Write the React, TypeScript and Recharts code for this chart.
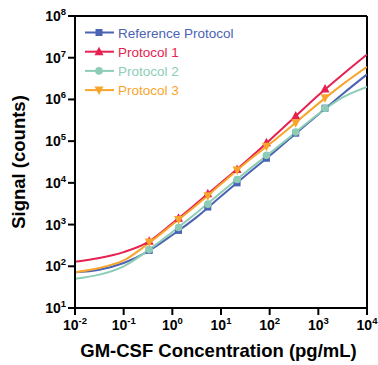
import { ComposedChart, Line, Scatter, XAxis, YAxis, ReferenceLine } from 'recharts';

const FONT = '"Liberation Sans", Arial, sans-serif';

// measured points (pg/mL -> counts)
const concentrations = [0.335, 1.34, 5.36, 21.4, 85.8, 343, 1372];
const referenceSignal = [240, 725, 2630, 10000, 38900, 155000, 617000];
const protocol1Signal = [398, 1410, 5500, 20900, 91200, 398000, 1780000];
const protocol2Signal = [251, 851, 3090, 12000, 45700, 166000, 617000];
const protocol3Signal = [380, 1320, 4900, 20400, 75900, 275000, 1100000];

// fitted curves, every half decade
const fitConcentrations = [0.01, 0.0316, 0.1, 0.316, 1, 3.16, 10, 31.6, 100, 316, 1000, 3160, 10000];
const referenceFit = [72, 83, 120, 229, 562, 1510, 4790, 14800, 44700, 141000, 437000, 1350000, 3980000];
const protocol1Fit = [129, 158, 219, 380, 1070, 3240, 10000, 31600, 105000, 363000, 1260000, 3980000, 12000000];
const protocol2Fit = [50, 63, 100, 240, 661, 1910, 5890, 17800, 51300, 151000, 447000, 1120000, 2000000];
const protocol3Fit = [72, 91, 138, 347, 1000, 2950, 9330, 29500, 85100, 257000, 794000, 2290000, 6030000];

const xTicks = [0.01, 0.1, 1, 10, 100, 1000, 10000];
const yTicks = [10, 100, 1e3, 1e4, 1e5, 1e6, 1e7, 1e8];

type MarkerKind = 'square' | 'triangle' | 'circle' | 'triangleDown';

const toPoints = (xs: number[], ys: number[]) => xs.map((x, i) => ({ x, y: ys[i] }));

const series = [
  { name: 'Reference Protocol', color: '#4b63b3', marker: 'square' as MarkerKind, points: referenceSignal, fit: referenceFit },
  { name: 'Protocol 1', color: '#e6214f', marker: 'triangle' as MarkerKind, points: protocol1Signal, fit: protocol1Fit },
  { name: 'Protocol 2', color: '#8dcdb5', marker: 'circle' as MarkerKind, points: protocol2Signal, fit: protocol2Fit },
  { name: 'Protocol 3', color: '#f8a52c', marker: 'triangleDown' as MarkerKind, points: protocol3Signal, fit: protocol3Fit },
];

function drawMarker(kind: MarkerKind, cx: number, cy: number, color: string) {
  if (kind === 'square') return <rect x={cx - 3.5} y={cy - 3.5} width={7} height={7} fill={color} />;
  if (kind === 'circle') return <circle cx={cx} cy={cy} r={3.8} fill={color} />;
  if (kind === 'triangle')
    return <polygon points={`${cx},${cy - 5} ${cx + 4.5},${cy + 3.5} ${cx - 4.5},${cy + 3.5}`} fill={color} />;
  return <polygon points={`${cx},${cy + 5} ${cx + 4.5},${cy - 3.5} ${cx - 4.5},${cy - 3.5}`} fill={color} />;
}

function PowerTick({ x, y, payload, axis }: any) {
  const exp = Math.round(Math.log10(payload.value));
  if (axis === 'y') {
    return (
      <text x={x} y={y + 5} textAnchor="end" fontFamily={FONT} fontWeight="bold" fontSize={14} fill="#000">
        10<tspan dy={-6} fontSize={9.5}>{exp}</tspan>
      </text>
    );
  }
  return (
    <text x={x} y={y + 13} textAnchor="middle" fontFamily={FONT} fontWeight="bold" fontSize={14} fill="#000">
      10<tspan dy={-6} fontSize={9.5}>{exp}</tspan>
    </text>
  );
}

export default function App() {
  const axisStroke = { stroke: '#000', strokeWidth: 2 };
  return (
    <div style={{ position: 'absolute', left: 0, top: 0, width: 378, height: 365, background: '#fff' }}>
      <ComposedChart width={378} height={365} margin={{ top: 16, right: 11, bottom: 0, left: 0 }}>
        <XAxis
          type="number"
          dataKey="x"
          scale="log"
          domain={[0.01, 10000]}
          ticks={xTicks}
          interval={0}
          allowDataOverflow
          height={57}
          tickSize={7}
          axisLine={axisStroke}
          tickLine={axisStroke}
          tick={<PowerTick axis="x" />}
        />
        <YAxis
          type="number"
          dataKey="y"
          scale="log"
          domain={[10, 1e8]}
          ticks={yTicks}
          interval={0}
          allowDataOverflow
          width={75}
          tickSize={7}
          axisLine={axisStroke}
          tickLine={axisStroke}
          tick={<PowerTick axis="y" />}
        />
        <ReferenceLine y={1e8} stroke="#000" strokeWidth={2} />
        <ReferenceLine x={10000} stroke="#000" strokeWidth={2} />
        {series.map((s) => (
          <Line
            key={s.name + '-fit'}
            data={toPoints(fitConcentrations, s.fit)}
            dataKey="y"
            type="monotone"
            stroke={s.color}
            strokeWidth={2}
            dot={false}
            activeDot={false}
            isAnimationActive={false}
          />
        ))}
        {series.map((s) => (
          <Scatter
            key={s.name + '-pts'}
            data={toPoints(concentrations, s.points)}
            dataKey="y"
            isAnimationActive={false}
            shape={(p: any) => drawMarker(s.marker, p.cx, p.cy, s.color)}
          />
        ))}
      </ComposedChart>
      <svg width={378} height={365} style={{ position: 'absolute', left: 0, top: 0, pointerEvents: 'none' }}>
        {series.map((s, i) => {
          const cy = 32.5 + i * 19.2;
          return (
            <g key={s.name}>
              <line x1={85} x2={114} y1={cy} y2={cy} stroke={s.color} strokeWidth={2} />
              {drawMarker(s.marker, 99, cy, s.color)}
              <text x={118} y={cy + 5} fontFamily={FONT} fontSize={13.5} fill={s.color}>
                {s.name}
              </text>
            </g>
          );
        })}
        <text x={218.5} y={357} textAnchor="middle" fontFamily={FONT} fontWeight="bold" fontSize={18.5} fill="#000">
          GM-CSF Concentration (pg/mL)
        </text>
        <text
          x={25}
          y={162}
          transform="rotate(-90 25 162)"
          textAnchor="middle"
          fontFamily={FONT}
          fontWeight="bold"
          fontSize={18.5}
          fill="#000"
        >
          Signal (counts)
        </text>
      </svg>
    </div>
  );
}
